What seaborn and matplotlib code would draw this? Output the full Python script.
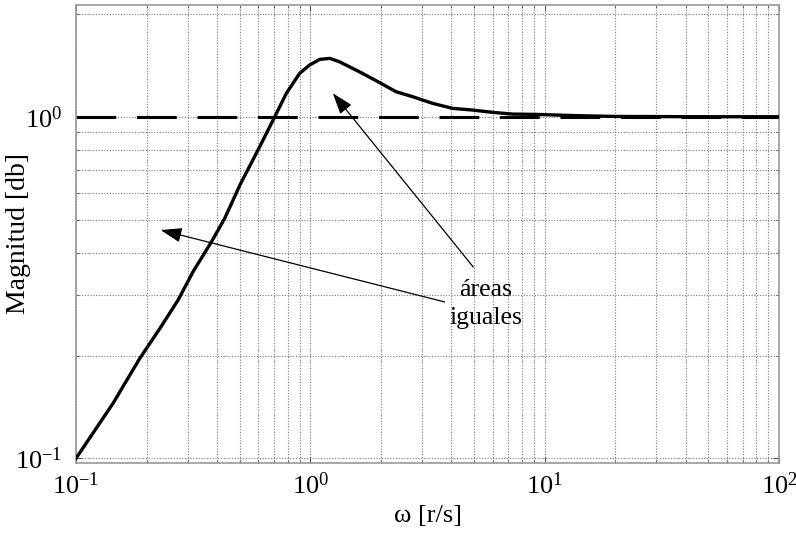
import numpy as np
import pandas as pd
import matplotlib
matplotlib.use("Agg")
import matplotlib.pyplot as plt
import seaborn as sns
from matplotlib.ticker import LogLocator, NullFormatter

# ---- data ----
omega = [0.1, 0.144, 0.187, 0.228, 0.273, 0.316, 0.379, 0.431, 0.468, 0.5,
         0.608, 0.705, 0.79, 0.9, 0.993, 1.096, 1.21, 1.33, 1.62, 1.97,
         2.32, 2.74, 3.33, 4.05, 4.93, 6.0, 7.3, 9.2, 11.5, 14.0, 20.0, 50.0, 100.0]
magnitud = [0.1, 0.145, 0.196, 0.240, 0.291, 0.352, 0.431, 0.504, 0.570, 0.630,
            0.817, 1.0, 1.171, 1.34, 1.417, 1.472, 1.482, 1.449, 1.354, 1.26,
            1.184, 1.144, 1.094, 1.058, 1.046, 1.030, 1.018, 1.016, 1.011, 1.007,
            1.002, 1.0, 1.0]
referencia = 1.0
x_lim = (0.1, 100)
y_lim = (0.0969, 2.131)
texto = "áreas\niguales"
texto_pos = (5.62, 0.283)
flecha_1 = ((4.96, 0.363), (1.248, 1.171))   # (tail, tip)
flecha_2 = ((3.74, 0.287), (0.2297, 0.466))
xlabel = "ω [r/s]"
ylabel = "Magnitud [db]"

plt.rcParams['font.family'] = ['Liberation Serif', 'DejaVu Serif']
plt.rcParams['mathtext.fontset'] = 'stix'

fig = plt.figure(figsize=(7.96, 5.34), dpi=100)
ax = fig.add_axes([76/796, 71/534, 703/796, 458.5/534])

df = pd.DataFrame({"omega": omega, "magnitud": magnitud})

ax.axhline(referencia, color='black', lw=2.2, dashes=(13, 6.8), zorder=2)
sns.lineplot(data=df, x="omega", y="magnitud", ax=ax, color='black', lw=2.4,
             zorder=3, estimator=None)

ax.set_xscale('log')
ax.set_yscale('log')
ax.set_xlim(*x_lim)
ax.set_ylim(*y_lim)

ax.xaxis.set_major_locator(LogLocator(base=10))
ax.yaxis.set_major_locator(LogLocator(base=10))
ax.xaxis.set_minor_locator(LogLocator(base=10, subs=np.arange(2, 10)))
ax.yaxis.set_minor_locator(LogLocator(base=10, subs=np.arange(2, 10)))
ax.xaxis.set_minor_formatter(NullFormatter())
ax.yaxis.set_minor_formatter(NullFormatter())

ax.grid(True, which='both', color='#7a7a7a', lw=0.8, linestyle=(0, (1, 1.5)), zorder=0)
ax.set_axisbelow(True)

for s in ax.spines.values():
    s.set_color('#999999')
    s.set_linewidth(1.2)

ax.tick_params(which='both', direction='in', top=True, right=True, color='#555555',
               labelsize=19)
ax.tick_params(which='major', length=4, width=0.8)
ax.tick_params(which='minor', length=2.5, width=0.6)
ax.tick_params(axis='y', pad=10)
ax.tick_params(axis='x', pad=7)

ax.set_xlabel(xlabel, fontsize=19)
ax.set_ylabel(ylabel, fontsize=20)
ax.xaxis.set_label_coords(0.5, -0.092)
ax.yaxis.set_label_coords(-0.064, 0.5)

ax.text(texto_pos[0], texto_pos[1], texto, ha='center', va='center', fontsize=18.5,
        linespacing=1.35, zorder=4)

for tail, tip in (flecha_1, flecha_2):
    ax.annotate("", xy=tip, xytext=tail,
                arrowprops=dict(arrowstyle="-|>,head_length=1.3,head_width=0.45",
                                mutation_scale=10, color='black', lw=0.9,
                                shrinkA=0, shrinkB=0), zorder=4)

fig.savefig("out.png", dpi=100)
